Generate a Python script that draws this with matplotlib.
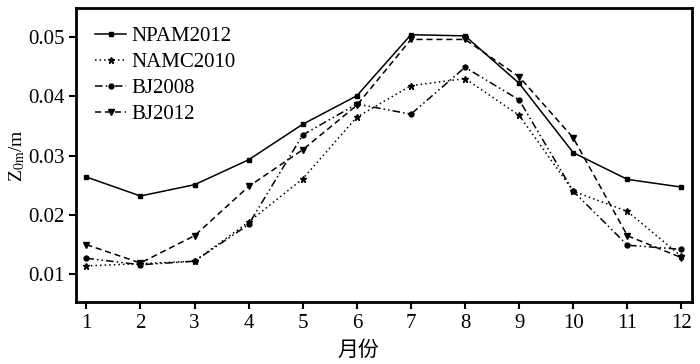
import numpy as np
import matplotlib.pyplot as plt

plt.rcParams['font.family'] = ['Liberation Serif', 'Noto Sans CJK SC']
plt.rcParams['mathtext.fontset'] = 'stix'

months = list(range(1, 13))
npam2012 = [0.0264, 0.0232, 0.0251, 0.0293, 0.0353, 0.0401, 0.0504, 0.0502, 0.0422, 0.0305, 0.0260, 0.0247]
namc2010 = [0.0114, 0.0118, 0.0122, 0.0188, 0.0261, 0.0365, 0.0418, 0.0430, 0.0368, 0.0240, 0.0206, 0.0130]
bj2008 = [0.0127, 0.0116, 0.0122, 0.0184, 0.0335, 0.0387, 0.0370, 0.0449, 0.0394, 0.0240, 0.0149, 0.0142]
bj2012 = [0.0150, 0.0119, 0.0165, 0.0248, 0.0310, 0.0385, 0.0496, 0.0496, 0.0433, 0.0330, 0.0165, 0.0128]

fig, ax = plt.subplots(figsize=(7.0, 3.64), dpi=100)
fig.subplots_adjust(left=0.109, right=0.989, top=0.978, bottom=0.17)

ax.plot(months, npam2012, color='black', lw=1.1, ls='-', marker='s', ms=3.5, label='NPAM2012')
ax.plot(months, namc2010, color='black', lw=1.1, ls=(0, (1, 2)), marker='*', ms=5, label='NAMC2010')
ax.plot(months, bj2008, color='black', lw=1.1, ls=(0, (5, 2, 1, 2, 1, 2)), marker='o', ms=3.5, label='BJ2008')
ax.plot(months, bj2012, color='black', lw=1.1, ls=(0, (4, 2.5)), marker='v', ms=4, label='BJ2012')

ax.set_xlim(0.815, 12.2)
ax.set_ylim(0.0053, 0.0549)
ax.set_xticks(months)
ax.set_yticks([0.01, 0.02, 0.03, 0.04, 0.05])
ax.set_yticklabels(['0.01', '0.02', '0.03', '0.04', '0.05'])
ax.tick_params(direction='out', length=5, width=1.5, labelsize=15)

for s in ax.spines.values():
    s.set_linewidth(2)

ax.set_ylabel(r'Z$_{\mathrm{0m}}$/m', fontsize=14, labelpad=1)
ax.set_xlabel('月份', fontsize=15, labelpad=4, x=0.458, family=['Noto Sans CJK SC'])

ax.legend(loc='upper left', frameon=False, fontsize=15, handlelength=1.5,
          handletextpad=0.25, labelspacing=0.3, borderaxespad=0.5)

plt.savefig('out.png', dpi=100)
